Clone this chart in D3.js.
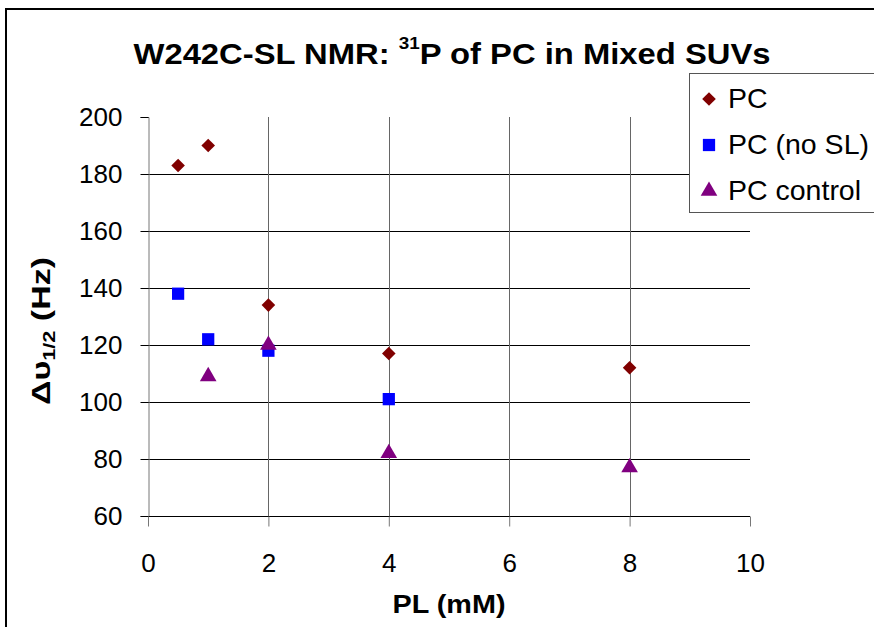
<!DOCTYPE html>
<html>
<head>
<meta charset="utf-8">
<script src="https://cdn.jsdelivr.net/npm/d3@7"></script>
<style>
  body { margin: 0; background: #fff; }
  svg { display: block; font-family: Arial, "Liberation Sans", sans-serif; }
</style>
</head>
<body>
<svg id="chart" width="874" height="627"></svg>
<script>
// data
var pcX = [0.5, 1, 2, 4, 8];
var pcY = [183, 190, 134, 117, 112];
var noslX = [0.5, 1, 2, 4];
var noslY = [138, 122, 118, 101];
var ctrlX = [1, 2, 4, 8];
var ctrlY = [109, 120, 82, 77];
var xTicks = [0, 2, 4, 6, 8, 10];
var yTicks = [60, 80, 100, 120, 140, 160, 180, 200];
var seriesNames = ["PC", "PC (no SL)", "PC control"];

var font = "Arial, 'Liberation Sans', sans-serif";
var svg = d3.select("#chart");

// outer frame (cut off on right and bottom)
svg.append("path")
  .attr("d", "M6,630 V9 H880")
  .attr("fill", "none")
  .attr("stroke", "#000")
  .attr("stroke-width", 2);

var x = d3.scaleLinear().domain([0, 10]).range([148, 750]);
var y = d3.scaleLinear().domain([60, 200]).range([516, 117]);

// horizontal grid
svg.append("g").selectAll("line")
  .data(yTicks.filter(function(d){ return d > 60 && d < 200; }))
  .enter().append("line")
  .attr("x1", x(0)).attr("x2", x(10))
  .attr("y1", function(d){ return Math.round(y(d)) + 0.5; })
  .attr("y2", function(d){ return Math.round(y(d)) + 0.5; })
  .attr("stroke", "#000");

// vertical grid
svg.append("g").selectAll("line")
  .data(xTicks.filter(function(d){ return d > 0 && d < 10; }))
  .enter().append("line")
  .attr("x1", function(d){ return Math.round(x(d)) + 0.5; })
  .attr("x2", function(d){ return Math.round(x(d)) + 0.5; })
  .attr("y1", y(200)).attr("y2", y(60))
  .attr("stroke", "#666");

// y axis
var yAxis = svg.append("g")
  .attr("transform", "translate(" + (x(0) + 0.5) + ",0)")
  .call(d3.axisLeft(y).tickValues(yTicks).tickSize(8).tickPadding(18));
yAxis.select(".domain").attr("stroke", "#777");
yAxis.selectAll(".tick line").attr("stroke", "#000");
yAxis.selectAll("text").attr("font-size", 26).attr("fill", "#000")
  .attr("font-family", font);

// x axis
var xAxis = svg.append("g")
  .attr("transform", "translate(0," + (y(60) + 0.5) + ")")
  .call(d3.axisBottom(x).tickValues(xTicks).tickSize(10).tickPadding(27));
xAxis.select(".domain").attr("stroke", "#000")
  .attr("d", "M" + x(0) + ",0H" + x(10));
xAxis.selectAll(".tick line").attr("stroke", "#777");
xAxis.selectAll("text").attr("font-size", 26).attr("fill", "#000")
  .attr("font-family", font);

// title
var title = svg.append("text")
  .attr("x", 452).attr("y", 64)
  .attr("text-anchor", "middle")
  .attr("font-size", 29.5).attr("font-weight", "bold")
  .attr("textLength", 637).attr("lengthAdjust", "spacingAndGlyphs");
title.append("tspan").text("W242C-SL NMR: ");
title.append("tspan").attr("font-size", 17).attr("dy", -15).text("31");
title.append("tspan").attr("dy", 15).text("P of PC in Mixed SUVs");

// axis titles
svg.append("text")
  .attr("x", 449).attr("y", 613)
  .attr("text-anchor", "middle")
  .attr("font-size", 25).attr("font-weight", "bold")
  .attr("textLength", 113).attr("lengthAdjust", "spacingAndGlyphs")
  .text("PL (mM)");

var yl = svg.append("text")
  .attr("transform", "translate(50,331) rotate(-90)")
  .attr("text-anchor", "middle")
  .attr("font-size", 25).attr("font-weight", "bold")
  .attr("textLength", 148).attr("lengthAdjust", "spacingAndGlyphs");
yl.append("tspan").text("\u0394\u03c5");
yl.append("tspan").attr("font-size", 16).attr("dy", 5).text("1/2");
yl.append("tspan").attr("dy", -5).text(" (Hz)");

// markers
var diamond = d3.symbol().type(d3.symbolDiamond2).size(118);
var square = d3.symbol().type(d3.symbolSquare).size(150);
var triangle = d3.symbol().type(d3.symbolTriangle).size(120);

var series = [
  { xs: pcX, ys: pcY, sym: diamond, color: "#800000" },
  { xs: noslX, ys: noslY, sym: square, color: "#0000ff" },
  { xs: ctrlX, ys: ctrlY, sym: triangle, color: "#800080" }
];

series.forEach(function(s){
  svg.append("g").selectAll("path")
    .data(s.xs.map(function(v, i){ return [v, s.ys[i]]; }))
    .enter().append("path")
    .attr("d", s.sym)
    .attr("transform", function(d){ return "translate(" + x(d[0]) + "," + y(d[1]) + ")"; })
    .attr("fill", s.color);
});

// legend
var lg = svg.append("g");
lg.append("rect")
  .attr("x", 689.5).attr("y", 73.5)
  .attr("width", 200).attr("height", 139)
  .attr("fill", "#fff").attr("stroke", "#555");

var rowY = [99, 145, 191];
series.forEach(function(s, i){
  lg.append("path")
    .attr("d", s.sym)
    .attr("transform", "translate(709," + rowY[i] + ")")
    .attr("fill", s.color);
  lg.append("text")
    .attr("x", 728).attr("y", rowY[i] + 9)
    .attr("font-size", 28.5)
    .text(seriesNames[i]);
});
</script>
</body>
</html>
